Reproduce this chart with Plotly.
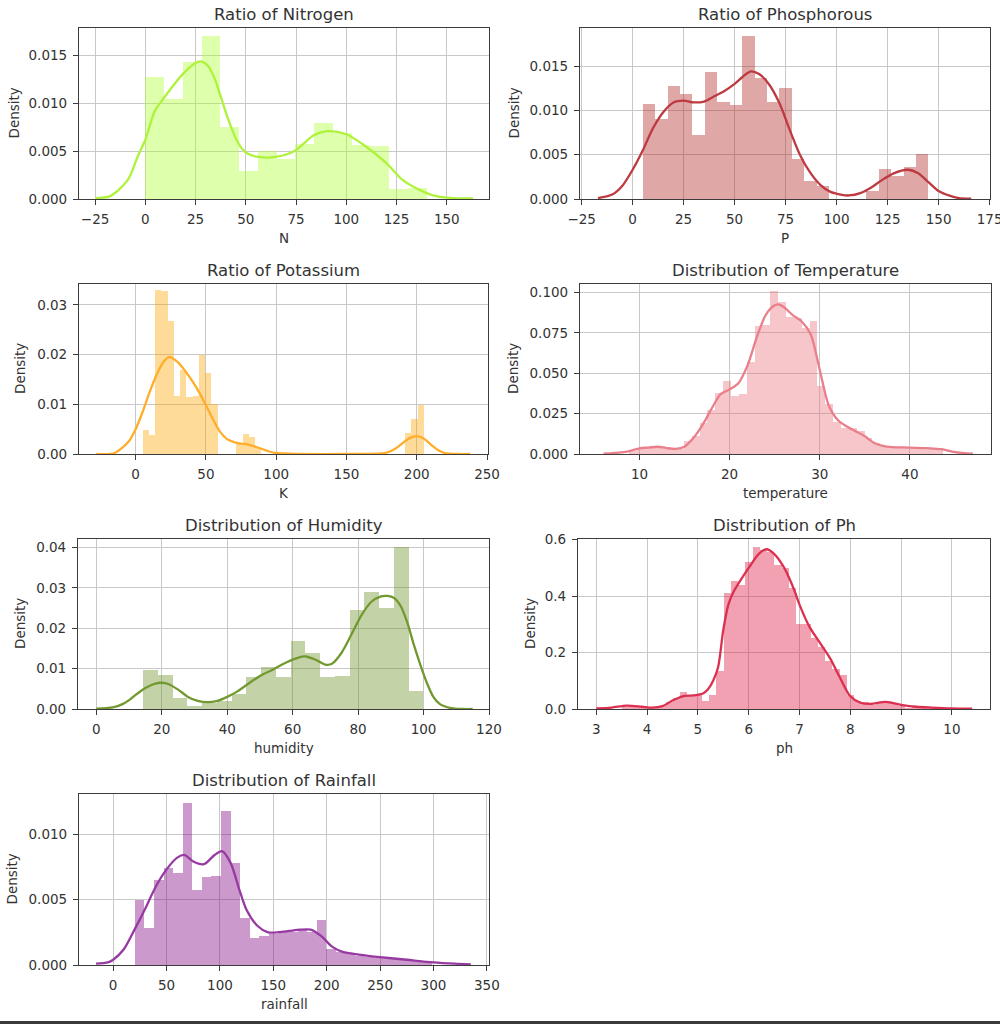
import numpy as np
import plotly.graph_objects as go

# ------------------------------------------------------------------ data
# Nitrogen (N)
n_range = [0, 140]
n_density = [0.0128, 0.0105, 0.0143, 0.0171, 0.0075, 0.0029, 0.0050, 0.0042,
             0.0058, 0.0080, 0.0069, 0.0057, 0.0055, 0.0010, 0.0011]
n_kde_x = [-25, -17.5, -8.7, -3.7, 0, 4.7, 9.7, 14.7, 19.7, 24.7, 27.5, 31.3, 34.7,
           38, 41.3, 44.7, 48, 51.3, 56.3, 64.7, 74, 84, 90.5, 99.7, 109.7, 119.7,
           128, 136, 144.7, 153, 163]
n_kde_y = [0.0001, 0.0003, 0.0020, 0.0045, 0.0062, 0.0092, 0.0107, 0.0121, 0.0133,
           0.0142, 0.0144, 0.0139, 0.0125, 0.0104, 0.0083, 0.0065, 0.0053, 0.0047,
           0.0044, 0.0044, 0.0050, 0.0067, 0.0071, 0.0068, 0.0055, 0.0038, 0.0020,
           0.0010, 0.0003, 0.0001, 0.00005]

# Phosphorous (P)
p_range = [5, 145]
p_density = [0.0107, 0.0090, 0.0127, 0.0118, 0.0072, 0.0143, 0.0109, 0.0106,
             0.0184, 0.0137, 0.0109, 0.0125, 0.0045, 0.0020, 0.0015, 0.0, 0.0,
             0.0, 0.0009, 0.0034, 0.0026, 0.0036, 0.0051]
p_kde_x = [-17, -10, -5, 0, 5, 10, 15, 20, 25, 30, 35, 40, 45, 50, 55, 58, 62, 67,
           72, 77, 82, 87, 92, 97, 102, 106, 112, 117, 122, 128, 135, 140, 145,
           150, 155, 160, 166]
p_kde_y = [0.0001, 0.0005, 0.0015, 0.0033, 0.0055, 0.0080, 0.0098, 0.0109, 0.0111,
           0.0109, 0.0110, 0.0116, 0.0122, 0.0130, 0.0140, 0.0144, 0.0141, 0.0129,
           0.0108, 0.0078, 0.0050, 0.0030, 0.0016, 0.0008, 0.0005, 0.0004, 0.0007,
           0.0013, 0.0021, 0.0029, 0.0033, 0.0029, 0.0019, 0.0009, 0.0004, 0.0001,
           0.00005]

# Potassium (K)
k_range = [5, 205]
k_density = [0.0049, 0.0039, 0.0330, 0.0328, 0.0268, 0.0116, 0.0168, 0.0115,
             0.0117, 0.0200, 0.0163, 0.0100, 0, 0, 0, 0.0021, 0.0040, 0.0034,
             0.0012] + [0] * 23 + [0.0042, 0.0070, 0.0098]
k_kde_x = [-28, -15, -5, 0, 5, 10, 15, 20, 24, 30, 35, 40, 45, 50, 55, 60, 65, 70,
           75, 80, 85, 90, 95, 100, 110, 150, 175, 180, 185, 190, 195, 200, 205,
           210, 215, 220, 230, 238]
k_kde_y = [0, 0.0002, 0.0025, 0.0050, 0.0085, 0.0125, 0.0160, 0.0186, 0.0195,
           0.0185, 0.0168, 0.0148, 0.0125, 0.0098, 0.0070, 0.0045, 0.0030, 0.0024,
           0.0021, 0.0019, 0.0015, 0.0010, 0.0005, 0.0002, 0.00005, 0, 0.0001,
           0.0004, 0.0011, 0.0022, 0.0032, 0.0036, 0.0031, 0.0019, 0.0008, 0.0002,
           0, 0]

# Temperature
t_range = [8.83, 43.68]
t_density = [0.002, 0.004, 0.004, 0.005, 0.004, 0.003, 0.003, 0.008, 0.011, 0.019,
             0.027, 0.038, 0.045, 0.036, 0.037, 0.057, 0.079, 0.080, 0.101, 0.094,
             0.085, 0.084, 0.078, 0.082, 0.042, 0.031, 0.020, 0.016, 0.016, 0.014,
             0.010, 0.007, 0.005, 0.004, 0.004, 0.004, 0.004, 0.004, 0.003, 0.004]
t_kde_x = [6, 8, 9, 10, 11, 12, 13, 14, 15, 16, 17, 18, 19, 20, 21, 22, 23, 24, 25,
           25.5, 26, 27, 28, 29, 30, 31, 32, 33, 34, 35, 36, 37, 38, 40, 42, 43.5,
           45, 47]
t_kde_y = [0.0002, 0.001, 0.002, 0.0035, 0.0040, 0.0045, 0.0037, 0.0032, 0.0045,
           0.010, 0.018, 0.028, 0.037, 0.040, 0.044, 0.055, 0.072, 0.086, 0.092,
           0.0925, 0.091, 0.086, 0.082, 0.074, 0.052, 0.030, 0.021, 0.017, 0.014,
           0.011, 0.007, 0.005, 0.0042, 0.0040, 0.0036, 0.0030, 0.0012, 0.0002]

# Humidity
h_range = [14.26, 99.98]
h_density = [0.0096, 0.0083, 0.0027, 0.0008, 0.0015, 0.0020, 0.0036, 0.0079,
             0.0103, 0.0079, 0.0168, 0.0138, 0.0079, 0.0082, 0.0245, 0.0289,
             0.0250, 0.0400, 0.0045]
h_kde_x = [0, 5, 8, 10, 12, 15, 18, 20, 22, 25, 28, 31, 34, 37, 40, 43, 46, 50, 54,
           58, 62, 64, 67, 70, 72, 75, 78, 81, 84, 87, 89, 91, 93, 95, 97, 99, 101,
           103, 105, 108, 112, 115]
h_kde_y = [0.0001, 0.0004, 0.0012, 0.0022, 0.0035, 0.0052, 0.0063, 0.0065, 0.0062,
           0.0048, 0.0030, 0.0020, 0.0017, 0.0020, 0.0030, 0.0043, 0.0060, 0.0082,
           0.0098, 0.0115, 0.0128, 0.0130, 0.0122, 0.0110, 0.0112, 0.0140, 0.0185,
           0.0232, 0.0265, 0.0279, 0.0280, 0.0275, 0.0255, 0.0215, 0.0160, 0.0110,
           0.0065, 0.0030, 0.0012, 0.0003, 0.0000, 0]

# pH
ph_range = [3.505, 9.935]
ph_density = [0.008, 0.010, 0.008, 0.005, 0.003, 0.010, 0.025, 0.040, 0.060, 0.045,
              0.050, 0.030, 0.050, 0.135, 0.41, 0.455, 0.44, 0.52, 0.575, 0.565,
              0.555, 0.51, 0.50, 0.43, 0.30, 0.30, 0.25, 0.22, 0.17, 0.14,
              0.12, 0.05, 0.03, 0.025, 0.015, 0.025, 0.03, 0.02, 0.01, 0.005,
              0.008, 0.010, 0.005, 0.003, 0.003]
ph_kde_x = [3.0, 3.3, 3.6, 3.9, 4.1, 4.3, 4.5, 4.7, 4.9, 5.1, 5.2, 5.3, 5.4, 5.5,
            5.6, 5.7, 5.8, 6.0, 6.2, 6.35, 6.5, 6.7, 6.9, 7.0, 7.2, 7.4, 7.6, 7.8,
            8.0, 8.2, 8.4, 8.7, 9.0, 9.3, 9.6, 10.0, 10.4]
ph_kde_y = [0.002, 0.005, 0.012, 0.008, 0.005, 0.010, 0.030, 0.045, 0.048, 0.055,
            0.070, 0.10, 0.15, 0.28, 0.37, 0.415, 0.445, 0.50, 0.55, 0.566, 0.55,
            0.50, 0.42, 0.37, 0.29, 0.235, 0.18, 0.11, 0.045, 0.022, 0.018, 0.025,
            0.015, 0.008, 0.005, 0.002, 0.001]

# Rainfall
r_range = [20.21, 298.56]
r_density = [0.0050, 0.0028, 0.0065, 0.0074, 0.0070, 0.0124, 0.0057, 0.0067,
             0.0068, 0.0118, 0.0078, 0.0036, 0.0021, 0.0022, 0.0024, 0.0025,
             0.0025, 0.0027, 0.0025, 0.0034, 0.0012, 0.0010, 0.0009, 0.0007,
             0.0006, 0.0005, 0.0005, 0.0005, 0.0004, 0.0004, 0.0003]
r_kde_x = [-16, -5, 0, 10, 20, 30, 40, 50, 60, 67, 75, 85, 95, 102, 110, 118, 125,
           135, 145, 155, 165, 175, 185, 195, 205, 215, 230, 250, 275, 300, 320, 335]
r_kde_y = [0.0001, 0.0002, 0.0004, 0.0012, 0.0027, 0.0043, 0.0060, 0.0073, 0.0082,
           0.0084, 0.0079, 0.0077, 0.0084, 0.0087, 0.0078, 0.0058, 0.0042, 0.0030,
           0.0025, 0.0025, 0.0026, 0.0027, 0.0027, 0.0022, 0.0014, 0.0010, 0.0008,
           0.0006, 0.0004, 0.0002, 0.0001, 0.00005]

titles = ["Ratio of Nitrogen", "Ratio of Phosphorous", "Ratio of Potassium",
          "Distribution of Temperature", "Distribution of Humidity",
          "Distribution of Ph", "Distribution of Rainfall"]
xlabels = ["N", "P", "K", "temperature", "humidity", "ph", "rainfall"]

# ------------------------------------------------------------------ styling / layout
W, H = 1000, 1024
FONT = "DejaVu Sans"
TXT = "#333333"
TICK_SIZE = 13.5
TITLE_SIZE = 16.5

panels = [
    dict(rng=n_range, dens=n_density, kx=n_kde_x, ky=n_kde_y,
         bar="rgba(173,255,47,0.4)", line="#aef23a",
         px=(79, 489), py=(28, 199), xr=[-33, 171], yr=[0, 0.0179],
         xt=dict(tick0=-25, dtick=25), yt=dict(dtick=0.005, tickformat=".3f"), ylx=13),
    dict(rng=p_range, dens=p_density, kx=p_kde_x, ky=p_kde_y,
         bar="rgba(178,34,34,0.4)", line="#bd3a40",
         px=(580, 990), py=(28, 199), xr=[-25.8, 175.2], yr=[0, 0.0193],
         xt=dict(tick0=-25, dtick=25), yt=dict(dtick=0.005, tickformat=".3f"), ylx=513),
    dict(rng=k_range, dens=k_density, kx=k_kde_x, ky=k_kde_y,
         bar="rgba(255,165,0,0.4)", line="#ffad2a",
         px=(79, 488), py=(284, 454), xr=[-40.3, 250.7], yr=[0, 0.0342],
         xt=dict(tick0=0, dtick=50), yt=dict(dtick=0.01, tickformat=".2f"), ylx=20),
    dict(rng=t_range, dens=t_density, kx=t_kde_x, ky=t_kde_y,
         bar="rgba(235,112,125,0.4)", line="#ea7f8c",
         px=(580, 991), py=(284, 454), xr=[3.4, 49.0], yr=[0, 0.1052],
         xt=dict(tick0=0, dtick=10), yt=dict(dtick=0.025, tickformat=".3f"), ylx=513),
    dict(rng=h_range, dens=h_density, kx=h_kde_x, ky=h_kde_y,
         bar="rgba(107,142,35,0.4)", line="#72992f",
         px=(78, 489), py=(539, 709), xr=[-5.6, 120.0], yr=[0, 0.0421],
         xt=dict(tick0=0, dtick=20), yt=dict(dtick=0.01, tickformat=".2f"), ylx=20),
    dict(rng=ph_range, dens=ph_density, kx=ph_kde_x, ky=ph_kde_y,
         bar="rgba(220,20,60,0.4)", line="#dc3050",
         px=(578, 990), py=(539, 709), xr=[2.64, 10.75], yr=[0, 0.6024],
         xt=dict(tick0=0, dtick=1), yt=dict(dtick=0.2, tickformat=".1f"), ylx=530),
    dict(rng=r_range, dens=r_density, kx=r_kde_x, ky=r_kde_y,
         bar="rgba(128,0,128,0.4)", line="#963aa2",
         px=(79, 489), py=(794, 965), xr=[-32, 352], yr=[0, 0.01306],
         xt=dict(tick0=0, dtick=50), yt=dict(dtick=0.005, tickformat=".3f"), ylx=11),
]

fig = go.Figure()
annotations = []
layout = {}

for i, p in enumerate(panels):
    k = "" if i == 0 else str(i + 1)
    xa, ya = "x" + k, "y" + k
    nb = len(p["dens"])
    edges = np.linspace(p["rng"][0], p["rng"][1], nb + 1)
    centers = (edges[:-1] + edges[1:]) / 2
    width = edges[1] - edges[0]

    fig.add_trace(go.Bar(x=centers, y=p["dens"], width=width,
                         marker=dict(color=p["bar"], line=dict(width=0)),
                         xaxis=xa, yaxis=ya, showlegend=False, hoverinfo="skip"))
    fig.add_trace(go.Scatter(x=p["kx"], y=p["ky"], mode="lines",
                             line=dict(color=p["line"], width=2.3, shape="spline",
                                       smoothing=0.8),
                             xaxis=xa, yaxis=ya, showlegend=False, hoverinfo="skip"))

    x0, x1 = p["px"][0] / W, p["px"][1] / W
    y0, y1 = 1 - p["py"][1] / H, 1 - p["py"][0] / H
    common = dict(showline=True, mirror=True, linecolor="#3c3c3c", linewidth=1.2,
                  showgrid=True, gridcolor="#c8c8c8", gridwidth=1, zeroline=False,
                  ticks="outside", ticklen=5, tickwidth=1, tickcolor="#3c3c3c",
                  ticklabelstandoff=3, automargin=False, ticklabeloverflow="allow",
                  tickfont=dict(family=FONT, size=TICK_SIZE, color=TXT),
                  fixedrange=True)
    layout["xaxis" + k] = dict(domain=[x0, x1], anchor=ya, range=p["xr"],
                               tickmode="linear", **p["xt"], **common)
    layout["yaxis" + k] = dict(domain=[y0, y1], anchor=xa, range=p["yr"],
                               tickmode="linear", tick0=0, **p["yt"], **common)

    cx = (x0 + x1) / 2
    annotations.append(dict(text=titles[i], x=cx, y=y1, xref="paper", yref="paper",
                            xanchor="center", yanchor="bottom", yshift=2,
                            showarrow=False,
                            font=dict(family=FONT, size=TITLE_SIZE, color=TXT)))
    annotations.append(dict(text=xlabels[i], x=cx, y=y0, xref="paper", yref="paper",
                            xanchor="center", yanchor="middle", yshift=-39,
                            showarrow=False,
                            font=dict(family=FONT, size=TICK_SIZE, color=TXT)))
    annotations.append(dict(text="Density", x=p["ylx"] / W, y=(y0 + y1) / 2,
                            xref="paper", yref="paper", xanchor="center",
                            yanchor="middle", textangle=-90, showarrow=False,
                            font=dict(family=FONT, size=TICK_SIZE, color=TXT)))

fig.update_layout(
    width=W, height=H, autosize=False,
    margin=dict(l=0, r=0, t=0, b=0, autoexpand=False),
    paper_bgcolor="white", plot_bgcolor="white",
    bargap=0, barmode="overlay",
    annotations=annotations,
    shapes=[dict(type="rect", xref="paper", yref="paper", x0=0, x1=1,
                 y0=0, y1=3 / H, fillcolor="#3a3a3a", line=dict(width=0))],
    **layout,
)

fig.write_html(
    "out.html",
    config={"displayModeBar": False},
    post_script="document.body.style.margin='0';document.body.style.overflow='hidden';",
)
